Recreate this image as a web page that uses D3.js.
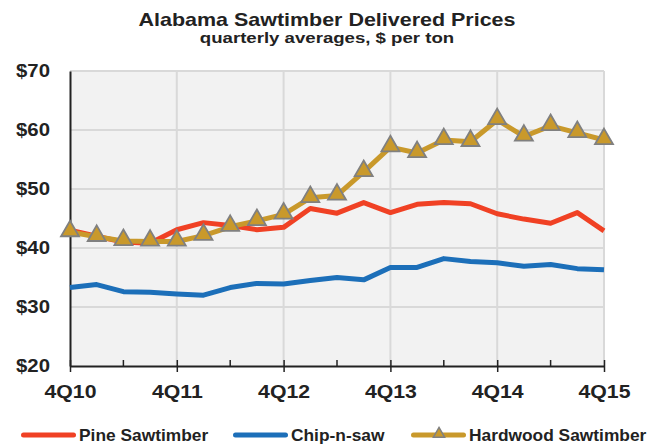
<!DOCTYPE html>
<meta charset="utf-8">
<style>
body, html { margin: 0; padding: 0; background: #fff; }
svg { font-family: "Liberation Sans", Arial, sans-serif; font-weight: bold; }
.grid line { stroke: #d9d9d9; stroke-width: 2px; }
</style>
<svg width="659" height="444"></svg>
<script src="https://d3js.org/d3.v7.min.js"></script>
<script>
// quarters 4Q10 .. 4Q15
var quarters = ["4Q10","1Q11","2Q11","3Q11","4Q11","1Q12","2Q12","3Q12","4Q12","1Q13","2Q13",
                "3Q13","4Q13","1Q14","2Q14","3Q14","4Q14","1Q15","2Q15","3Q15","4Q15"];
var pine     = [43.0,42.0,41.0,40.8,43.1,44.3,43.8,43.1,43.5,46.7,45.9,47.7,46.0,47.4,47.7,47.5,45.8,44.9,44.2,46.0,42.9];
var chip     = [33.3,33.8,32.6,32.5,32.2,32.0,33.3,34.0,33.9,34.5,35.0,34.6,36.7,36.7,38.2,37.7,37.5,36.9,37.2,36.5,36.3];
var hardwood = [42.7,41.9,41.2,41.1,41.1,42.1,43.6,44.6,45.7,48.5,48.9,52.9,57.1,56.1,58.3,58.0,61.7,58.9,60.7,59.5,58.3];
var yTicks = [20,30,40,50,60,70];
var xLabels = ["4Q10","4Q11","4Q12","4Q13","4Q14","4Q15"];

var series = [
  {name: "Pine Sawtimber", values: pine, color: "#f04124"},
  {name: "Chip-n-saw", values: chip, color: "#1c6fb9"},
  {name: "Hardwood Sawtimber", values: hardwood, color: "#c9992b", marker: true}
];

var svg = d3.select("svg");
var mLeft = 70, mRight = 604, mTop = 71, mBottom = 366;

var x = d3.scaleLinear().domain([0, quarters.length - 1]).range([mLeft, mRight]);
var y = d3.scaleLinear().domain([20, 70]).range([mBottom, mTop]);

// the original's lettering is a bit wider than Arial, stretch it
function stretch(sel, k) {
  sel.each(function() {
    var w = this.getComputedTextLength();
    d3.select(this).attr("textLength", w * k).attr("lengthAdjust", "spacingAndGlyphs");
  });
}

// title
svg.append("text").attr("x", 327).attr("y", 26).attr("text-anchor", "middle")
  .attr("font-size", 18.5).attr("fill", "#222").text("Alabama Sawtimber Delivered Prices")
  .call(stretch, 1.16);
svg.append("text").attr("x", 327).attr("y", 42.5).attr("text-anchor", "middle")
  .attr("font-size", 15.5).attr("fill", "#222").text("quarterly averages, $ per ton")
  .call(stretch, 1.2);

// plot bg
svg.append("rect").attr("x", mLeft).attr("y", mTop).attr("width", mRight - mLeft).attr("height", mBottom - mTop)
  .attr("fill", "#f2f2f2");

var grid = svg.append("g").attr("class", "grid");
grid.selectAll(".h").data(yTicks.slice(1)).enter().append("line")
  .attr("x1", mLeft).attr("x2", mRight).attr("y1", d => y(d)).attr("y2", d => y(d));
grid.selectAll(".v").data(xLabels.slice(1)).enter().append("line")
  .attr("x1", d => x(quarters.indexOf(d))).attr("x2", d => x(quarters.indexOf(d)))
  .attr("y1", mTop).attr("y2", mBottom);

// axes
var yAxis = svg.append("g").attr("transform", "translate(" + mLeft + ",0)")
  .call(d3.axisLeft(y).tickValues(yTicks).tickSize(0).tickPadding(20).tickFormat(d => "$" + d));
yAxis.select(".domain").attr("stroke", "#222").attr("stroke-width", 2);
yAxis.selectAll("text").attr("font-size", 18.5).attr("fill", "#222").attr("font-family", null)
  .attr("dy", "0.3em").call(stretch, 1.1);

var xAxis = svg.append("g").attr("transform", "translate(0," + mBottom + ")")
  .call(d3.axisBottom(x).tickValues(xLabels.map(d => quarters.indexOf(d)))
    .tickSize(6).tickSizeOuter(0).tickPadding(13).tickFormat(i => quarters[i]));
xAxis.select(".domain").attr("stroke", "#222").attr("stroke-width", 2);
xAxis.selectAll(".tick line").attr("stroke", "#222").attr("stroke-width", 1.5).attr("y1", -6);
xAxis.selectAll("text").attr("font-size", 18).attr("fill", "#222").attr("font-family", null)
  .call(stretch, 1.18);
// minor ticks at mid-year
var minor = d3.range(2, quarters.length, 4);
svg.append("g").selectAll("line").data(minor).enter().append("line")
  .attr("x1", d => x(d)).attr("x2", d => x(d)).attr("y1", mBottom - 6).attr("y2", mBottom)
  .attr("stroke", "#222").attr("stroke-width", 1.5);

var line = d3.line().x((d, i) => x(i)).y(d => y(d));
var tri = d3.symbol().type(d3.symbolTriangle).size(140);

series.forEach(function(s) {
  svg.append("path").datum(s.values).attr("d", line)
    .attr("fill", "none").attr("stroke", s.color).attr("stroke-width", 5)
    .attr("stroke-linejoin", "round");
  if (s.marker) {
    svg.append("g").selectAll("path").data(s.values).enter().append("path")
      .attr("d", tri).attr("transform", (d, i) => "translate(" + x(i) + "," + (y(d) - 1) + ")")
      .attr("fill", s.color).attr("stroke", "#808080").attr("stroke-width", 1.8);
  }
});

// legend
var legX = [21, 233, 411];
var leg = svg.append("g");
series.forEach(function(s, i) {
  var g = leg.append("g").attr("transform", "translate(" + legX[i] + ",435)");
  g.append("line").attr("x1", 2.5).attr("x2", 52.5).attr("stroke", s.color).attr("stroke-width", 5)
    .attr("stroke-linecap", "round");
  if (s.marker) {
    g.append("path").attr("d", d3.symbol().type(d3.symbolTriangle).size(55)).attr("transform", "translate(28,-1)")
      .attr("fill", s.color).attr("stroke", "#808080").attr("stroke-width", 1.5);
  }
  g.append("text").attr("x", 58).attr("y", 6).attr("font-size", 17).attr("fill", "#222").text(s.name)
    .call(stretch, 1.02);
});
</script>
